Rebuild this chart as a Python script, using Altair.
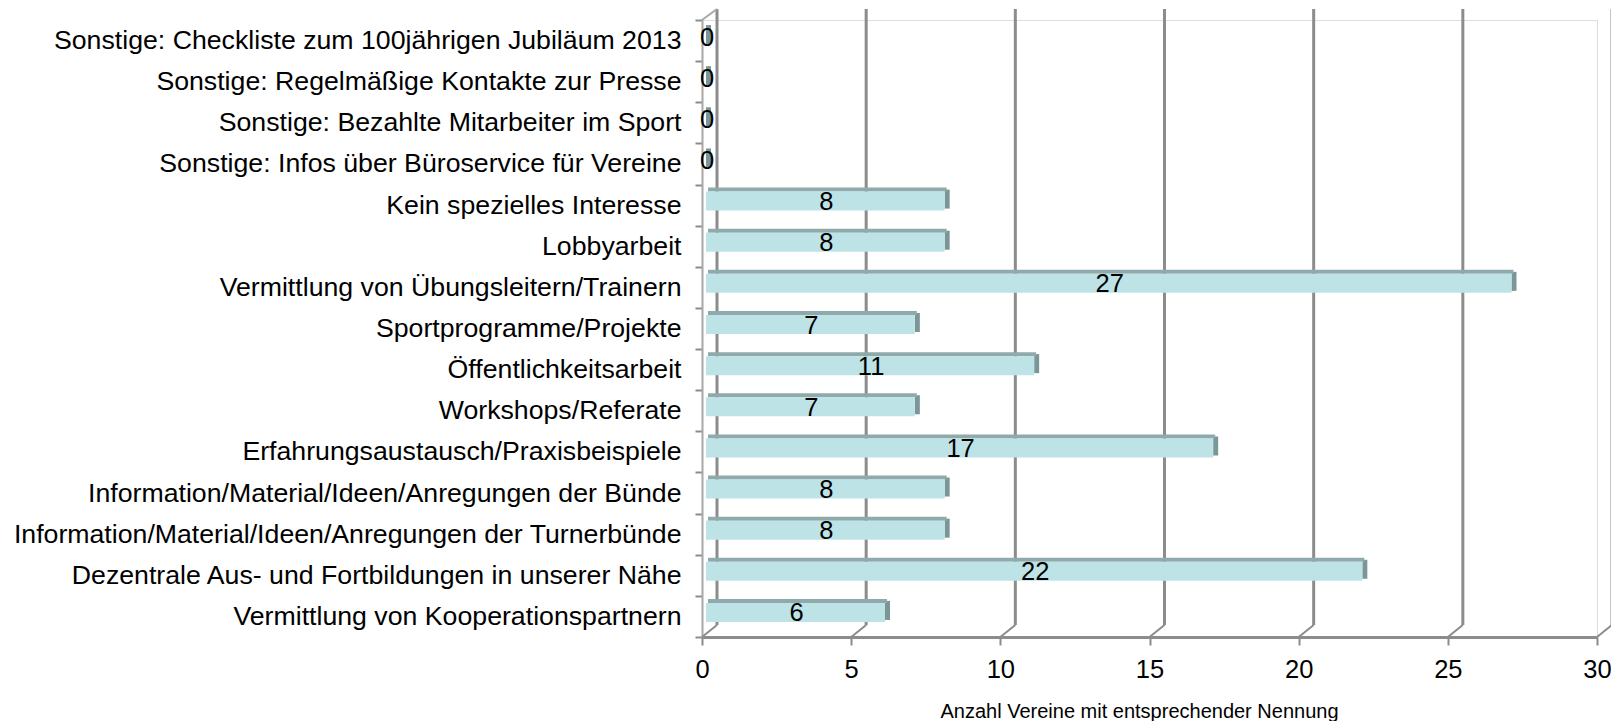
import altair as alt
import pandas as pd

categories = [
    "Sonstige: Checkliste zum 100jährigen Jubiläum 2013",
    "Sonstige: Regelmäßige Kontakte zur Presse",
    "Sonstige: Bezahlte Mitarbeiter im Sport",
    "Sonstige: Infos über Büroservice für Vereine",
    "Kein spezielles Interesse",
    "Lobbyarbeit",
    "Vermittlung von Übungsleitern/Trainern",
    "Sportprogramme/Projekte",
    "Öffentlichkeitsarbeit",
    "Workshops/Referate",
    "Erfahrungsaustausch/Praxisbeispiele",
    "Information/Material/Ideen/Anregungen der Bünde",
    "Information/Material/Ideen/Anregungen der Turnerbünde",
    "Dezentrale Aus- und Fortbildungen in unserer Nähe",
    "Vermittlung von Kooperationspartnern",
]
values = [0, 0, 0, 0, 8, 8, 27, 7, 11, 7, 17, 8, 8, 22, 6]
tick_values = [0, 5, 10, 15, 20, 25, 30]
x_title = "Anzahl Vereine mit entsprechender Nennung"

FONT = "Liberation Sans"
GRID = "#8c8c8c"
FRONT = "#bde3e6"
TOP = "#8eaaab"
SIDE = "#7b9697"

df = pd.DataFrame({"cat": categories, "val": values})
df["mid"] = df["val"] / 2
ticks = pd.DataFrame({"t": tick_values})
origin = pd.DataFrame({"t": [0]})

xscale = alt.Scale(domain=[0, 30], nice=False, zero=True)
yscale = alt.Scale(domain=categories, paddingInner=0, paddingOuter=0)

x_axis = alt.Axis(
    values=tick_values, title=x_title, grid=False, labelFlush=False,
    labelFontSize=25.5, labelPadding=12, labelColor="black", labelFont=FONT,
    tickSize=8, tickColor=GRID, tickWidth=2,
    domainColor=GRID, domainWidth=3,
    titleFontSize=20, titleFontWeight="normal", titleFont=FONT, titleColor="black",
    titleX=437, titleY=80, titleBaseline="alphabetic", titleAlign="center",
)
y_axis = alt.Axis(
    title="", grid=False, tickBand="extent",
    labelFontSize=26.7, labelPadding=14, labelColor="black", labelFont=FONT,
    labelLimit=800,
    tickSize=7, tickColor=GRID, tickWidth=2,
    domainColor="#a8a8a8", domainWidth=2,
)

Y = alt.Y("cat:N", sort=categories, scale=yscale, axis=y_axis)

back_grid = alt.Chart(ticks).mark_rule(
    color=GRID, strokeWidth=3, xOffset=15
).encode(
    x=alt.X("t:Q", scale=xscale, axis=x_axis),
    y=alt.value(-11), y2=alt.value(605),
)

floor_diag = alt.Chart(ticks).mark_rule(
    color=GRID, strokeWidth=2, x2Offset=15
).encode(
    x=alt.X("t:Q", scale=xscale), x2="t:Q",
    y=alt.value(617), y2=alt.value(605),
)

wall_top = alt.Chart(origin).mark_rule(
    color="#a8a8a8", strokeWidth=2, x2Offset=15
).encode(
    x=alt.X("t:Q", scale=xscale), x2="t:Q",
    y=alt.value(0), y2=alt.value(-11),
)

side = alt.Chart(df).mark_bar(
    color=SIDE, size=19, xOffset=4, x2Offset=9, yOffset=-6
).encode(
    x=alt.X("val:Q", scale=xscale), x2="val:Q", y=Y,
)

top = alt.Chart(df).mark_bar(
    color=TOP, size=4, xOffset=6, x2Offset=6, yOffset=-15.5
).transform_calculate(zero="0").encode(
    x=alt.X("zero:Q", scale=xscale), x2="val:Q", y=Y,
)

front = alt.Chart(df).mark_bar(
    color=FRONT, size=19, xOffset=4, x2Offset=4, yOffset=-4
).transform_calculate(zero="0").encode(
    x=alt.X("zero:Q", scale=xscale), x2="val:Q", y=Y,
)

labels = alt.Chart(df).mark_text(
    fontSize=25.5, font=FONT, color="black", baseline="middle", align="center",
    xOffset=5, yOffset=-3,
).encode(
    x=alt.X("mid:Q", scale=xscale), y=Y, text="val:Q",
)

chart = alt.layer(back_grid, floor_diag, wall_top, side, top, front, labels).properties(
    width=895, height=617,
    autosize=alt.AutoSizeParams(type="none"),
    padding={"left": 694, "top": 12, "right": 14, "bottom": 84},
).configure_view(stroke=None).configure(background="white")

chart.save("out.html", embed_options={"renderer": "svg", "actions": False})
